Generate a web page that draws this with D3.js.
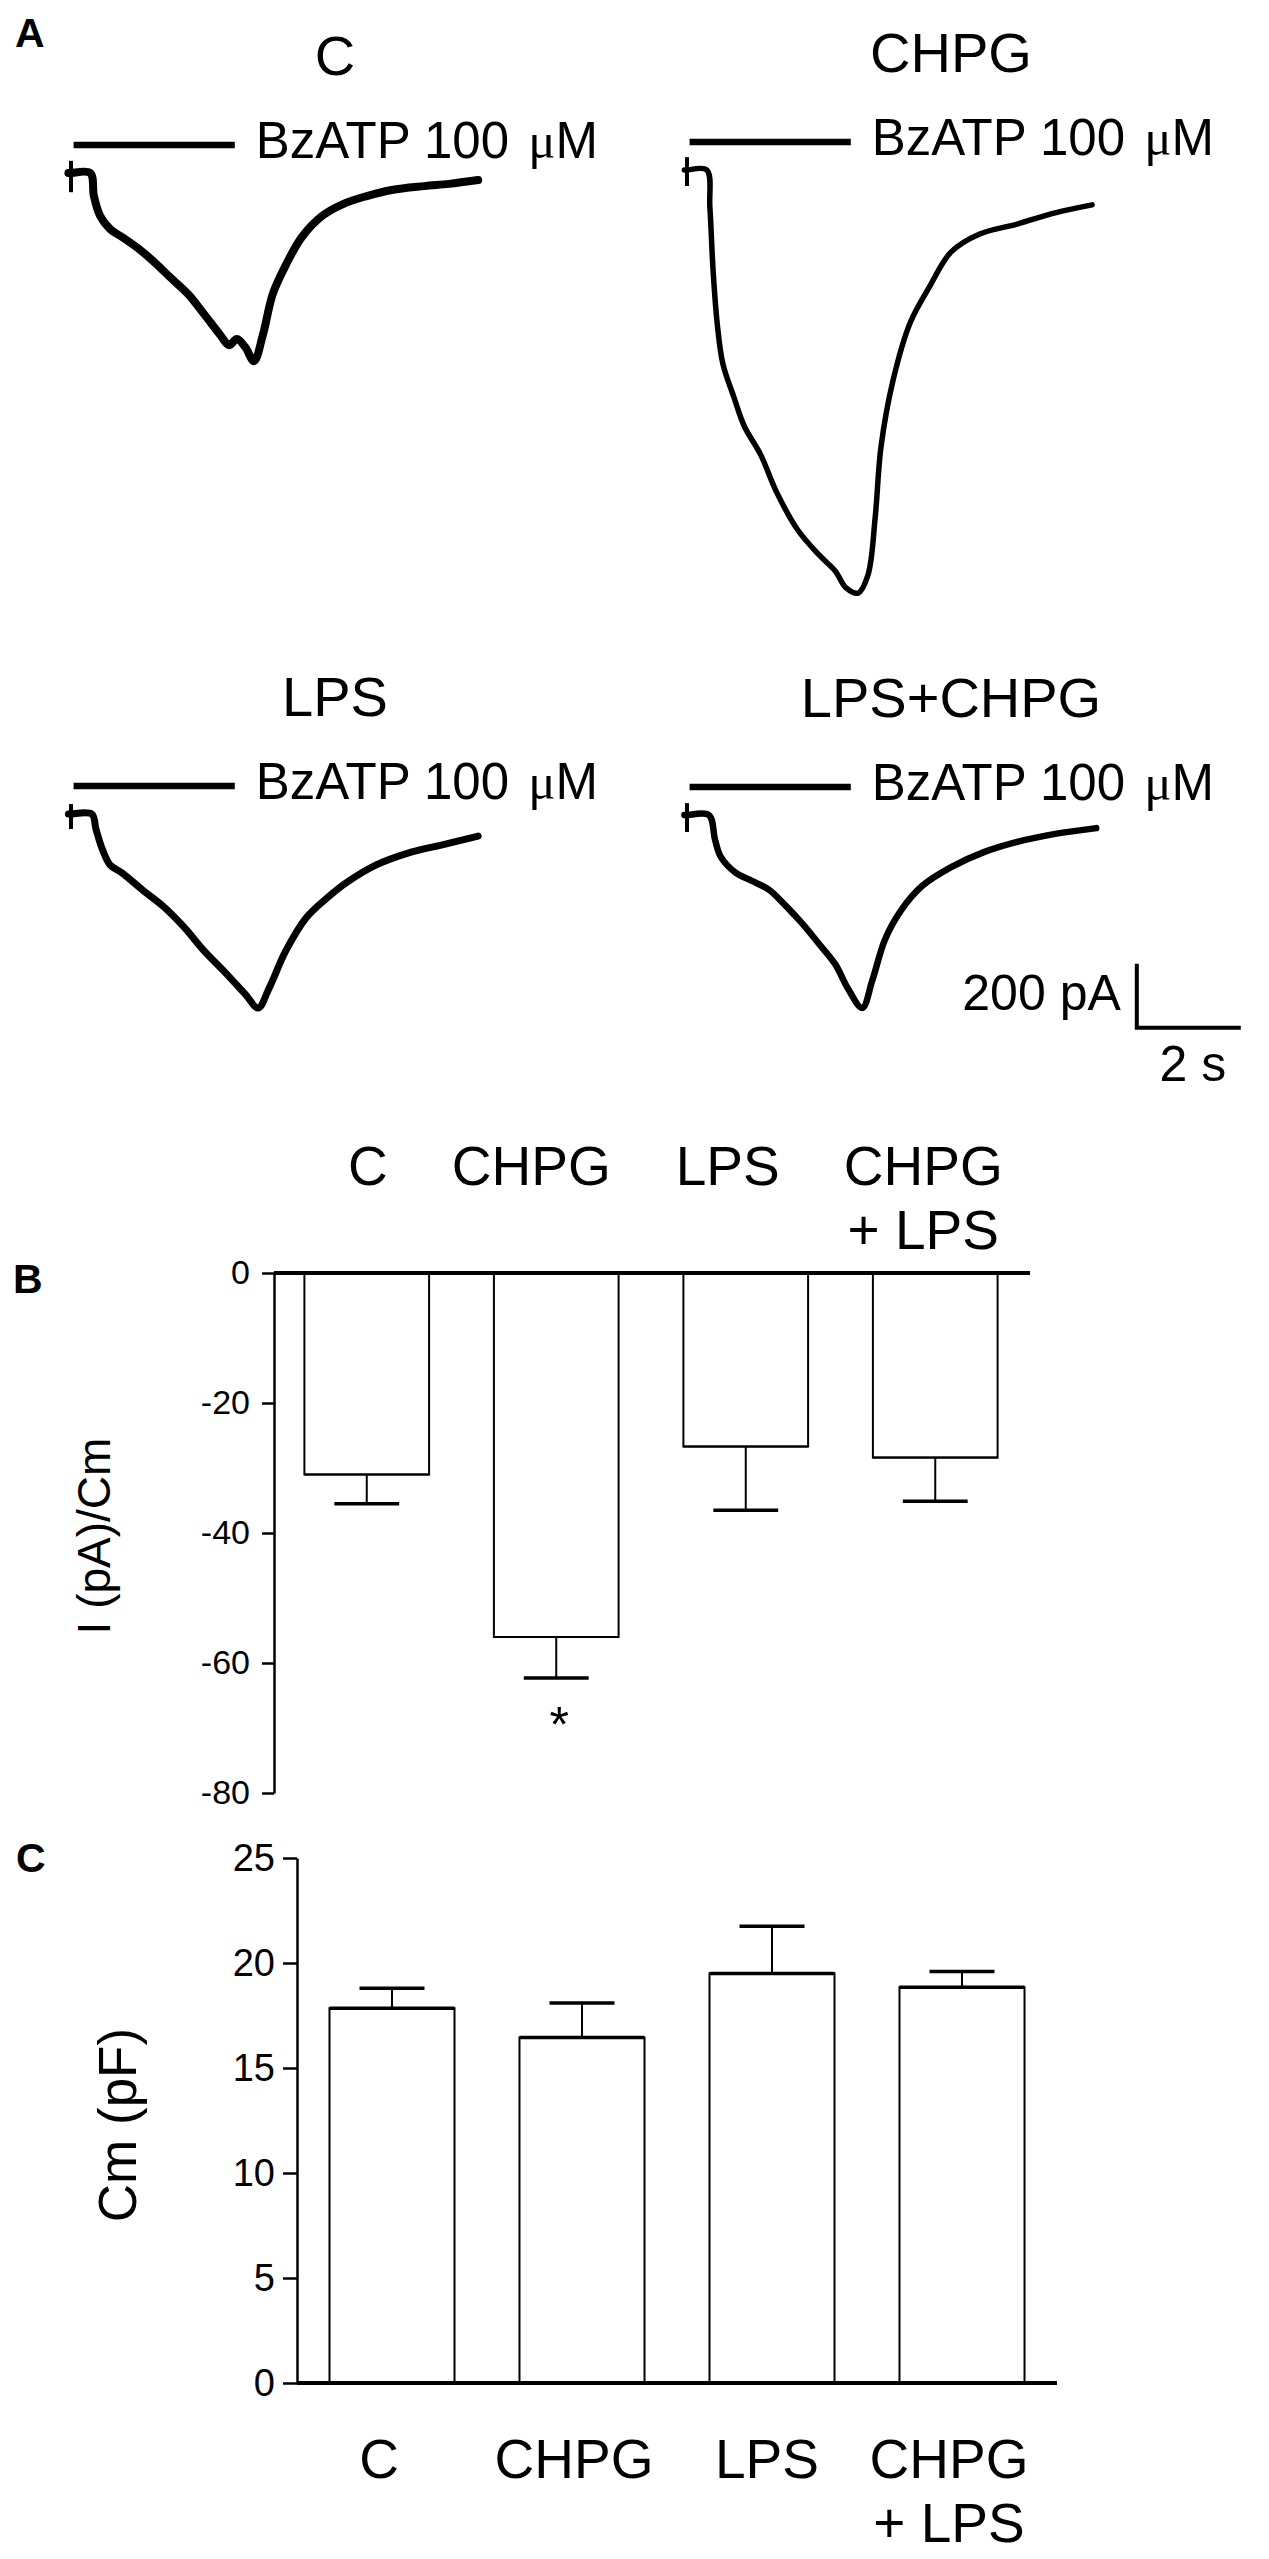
<!DOCTYPE html>
<html><head><meta charset="utf-8">
<script src="https://cdn.jsdelivr.net/npm/d3@7"></script>
<style>
body{margin:0;background:#fff}
svg{display:block}
text{font-family:"Liberation Sans",Arial,sans-serif;fill:#000}
</style>
</head><body>
<svg id="fig" width="1269" height="2559"></svg>
<script>
// ================= DATA =================
// Panel A: whole-cell current traces (time in s, current in pA relative to holding)
const traceTitles = ["C", "CHPG", "LPS", "LPS+CHPG"];
const stimText = "BzATP 100";
const stimUnit = "\u03bcM";
const stimWindow = [0.05, 3.15];           // s, BzATP application bar

const traceC_t = [-0.05, 0, 0.37, 0.44, 0.56, 0.75, 0.98, 1.31, 1.62, 1.92, 2.25, 2.56, 2.87, 3.04, 3.19, 3.35, 3.52, 3.69, 3.88, 4.13, 4.44, 4.83, 5.23, 5.69, 6.17, 6.79, 7.27, 7.83];
const traceC_I = [0, 0, 0, -72, -134, -175, -200, -238, -281, -328, -378, -441, -506, -538, -519, -544, -588, -506, -378, -288, -200, -134, -97, -72, -53, -41, -34, -22];

const traceCHPG_t = [-0.05, 0, 0.38, 0.44, 0.50, 0.58, 0.69, 0.90, 1.10, 1.42, 1.73, 2.13, 2.54, 2.85, 3.06, 3.29, 3.48, 3.62, 3.73, 3.96, 4.29, 4.67, 5.08, 5.63, 6.35, 7.08, 7.79];
const traceCHPG_I = [0, 0, 0, -116, -309, -478, -606, -709, -800, -891, -1009, -1125, -1203, -1253, -1306, -1322, -1266, -1084, -866, -659, -478, -363, -256, -200, -169, -134, -109];

const traceLPS_t = [-0.05, 0, 0.40, 0.48, 0.60, 0.75, 0.98, 1.38, 1.77, 2.17, 2.56, 2.94, 3.35, 3.60, 3.81, 4.13, 4.52, 4.92, 5.31, 5.87, 6.48, 7.12, 7.83];
const traceLPS_I = [0, 0, 0, -47, -109, -159, -184, -238, -288, -353, -428, -491, -563, -606, -544, -428, -325, -263, -213, -159, -122, -97, -69];

const traceLC_t = [-0.05, 0, 0.42, 0.54, 0.65, 0.94, 1.25, 1.58, 1.90, 2.21, 2.54, 2.85, 3.10, 3.37, 3.56, 3.81, 4.12, 4.52, 5.08, 5.71, 6.35, 7.08, 7.87];
const traceLC_I = [0, 0, 0, -78, -131, -181, -206, -234, -284, -338, -403, -466, -544, -603, -519, -388, -297, -222, -163, -116, -84, -59, -41];

// onset artifact (pA, up / down)
const artifactC = [38, -60];
const artifactCHPG = [40, -50];
const artifactLPS = [31, -47];
const artifactLC = [37, -53];

const scaleBarCurrent = 200; // pA
const scaleBarTime = 2;      // s

// Panels B and C: group means and SEM
const categories = ["C", "CHPG", "LPS", "CHPG + LPS"];
const categoryLines = [["C"], ["CHPG"], ["LPS"], ["CHPG", "+ LPS"]];
const currentDensity = [-31.0, -56.0, -26.7, -28.4];   // I (pA)/Cm
const currentDensitySem = [4.5, 6.3, 9.8, 6.7];
const significance = ["", "*", "", ""];
const capacitance = [17.85, 16.45, 19.5, 18.85];         // Cm (pF)
const capacitanceSem = [0.95, 1.65, 2.25, 0.75];
const ticksB = [0, -20, -40, -60, -80];
const ticksC = [0, 5, 10, 15, 20, 25];

// ================= DRAW =================
const svg = d3.select("#fig");
svg.append("rect").attr("width", 1269).attr("height", 2559).attr("fill", "#fff");

// panel letters
const letters = [
  {t: "A", x: 15, y: 47, s: 41},
  {t: "B", x: 13, y: 1293, s: 41},
  {t: "C", x: 16, y: 1872, s: 41}
];
svg.selectAll("text.letter").data(letters).join("text")
  .attr("class", "letter")
  .attr("x", d => d.x).attr("y", d => d.y)
  .attr("font-size", d => d.s).attr("font-weight", "bold")
  .text(d => d.t);

// ---- Panel A ----
const PX_PER_S = 52, PX_PER_200PA = 64;
const traces = [
  {title: traceTitles[0], t: traceC_t, I: traceC_I, art: artifactC, x0: 71, y0: 173, w: 8},
  {title: traceTitles[1], t: traceCHPG_t, I: traceCHPG_I, art: artifactCHPG, x0: 687, y0: 170, w: 5.5},
  {title: traceTitles[2], t: traceLPS_t, I: traceLPS_I, art: artifactLPS, x0: 71, y0: 814, w: 7},
  {title: traceTitles[3], t: traceLC_t, I: traceLC_I, art: artifactLC, x0: 687, y0: 815, w: 6.5}
];

traces.forEach((tr, k) => {
  const g = svg.append("g");
  const x = d3.scaleLinear().domain([0, 1]).range([tr.x0, tr.x0 + PX_PER_S]);
  const y = d3.scaleLinear().domain([0, -200]).range([tr.y0, tr.y0 + PX_PER_200PA]);
  tr.x = x; tr.y = y;
  const pts = tr.t.map((t, i) => [t, tr.I[i]]);
  const line = d3.line().x(d => x(d[0])).y(d => y(d[1])).curve(d3.curveCatmullRom.alpha(0.5));
  g.append("path").attr("d", line(pts))
    .attr("fill", "none").attr("stroke", "#000")
    .attr("stroke-width", tr.w).attr("stroke-linejoin", "round").attr("stroke-linecap", "round");
  // onset artifact
  g.append("line")
    .attr("x1", x(0)).attr("x2", x(0))
    .attr("y1", y(tr.art[0])).attr("y2", y(tr.art[1]))
    .attr("stroke", "#000").attr("stroke-width", 4);
  // stimulus bar
  const barY = tr.y0 - 28;
  g.append("line")
    .attr("x1", x(stimWindow[0])).attr("x2", x(stimWindow[1]))
    .attr("y1", barY).attr("y2", barY)
    .attr("stroke", "#000").attr("stroke-width", 6.5);
  const st = g.append("text")
    .attr("x", x(stimWindow[1]) + 21).attr("y", tr.y0 - 15)
    .attr("font-size", 51);
  st.append("tspan").text(stimText + " ");
  st.append("tspan").attr("dx", 5)
    .style("font-family", "'Liberation Serif','DejaVu Serif',serif").text(stimUnit[0]);
  st.append("tspan").text(stimUnit.slice(1));
  // title
  g.append("text")
    .attr("x", tr.x0 + 264).attr("y", tr.y0 - 98)
    .attr("text-anchor", "middle").attr("font-size", 56)
    .text(tr.title);
});

// scale bar (drawn in the LPS+CHPG panel's scales)
{
  const tr = traces[3];
  const t0 = 8.65, i0 = -665;
  const sb = svg.append("g");
  sb.append("path")
    .attr("d", `M${tr.x(t0)},${tr.y(i0 + scaleBarCurrent)}V${tr.y(i0)}H${tr.x(t0 + scaleBarTime)}`)
    .attr("fill", "none").attr("stroke", "#000").attr("stroke-width", 4);
  sb.append("text")
    .attr("x", tr.x(t0) - 16).attr("y", tr.y(i0) - 18)
    .attr("text-anchor", "end").attr("font-size", 50)
    .text(scaleBarCurrent + " pA");
  sb.append("text")
    .attr("x", tr.x(t0 + scaleBarTime / 2) + 4).attr("y", tr.y(i0) + 53)
    .attr("text-anchor", "middle").attr("font-size", 50)
    .text(scaleBarTime + " s");
}

// ---- Bar chart helper ----
function barChart(opts) {
  const g = svg.append("g");
  const x = d3.scaleBand().domain(categories).range(opts.xRange)
    .paddingInner(0.342).paddingOuter(0.171);
  const y = d3.scaleLinear().domain(opts.domain).range(opts.yRange);
  const bw = x.bandwidth();
  const data = categories.map((c, i) => ({c, v: opts.values[i], e: opts.sem[i], s: opts.sig ? opts.sig[i] : ""}));

  // bars
  g.selectAll("rect.bar").data(data).join("rect")
    .attr("class", "bar")
    .attr("x", d => x(d.c))
    .attr("y", d => Math.min(y(0), y(d.v)))
    .attr("width", bw)
    .attr("height", d => Math.abs(y(d.v) - y(0)))
    .attr("fill", "#fff").attr("stroke", "#000").attr("stroke-width", 2);
  // value edge (thicker)
  g.selectAll("line.edge").data(data).join("line")
    .attr("x1", d => x(d.c)).attr("x2", d => x(d.c) + bw)
    .attr("y1", d => y(d.v)).attr("y2", d => y(d.v))
    .attr("stroke", "#000").attr("stroke-width", opts.edgeW);
  // error bars
  const dir = opts.domain[1] < 0 ? -1 : 1;
  g.selectAll("line.err").data(data).join("line")
    .attr("x1", d => x(d.c) + bw / 2).attr("x2", d => x(d.c) + bw / 2)
    .attr("y1", d => y(d.v)).attr("y2", d => y(d.v + dir * d.e))
    .attr("stroke", "#000").attr("stroke-width", 2);
  g.selectAll("line.cap").data(data).join("line")
    .attr("x1", d => x(d.c) + bw / 2 - bw * 0.26).attr("x2", d => x(d.c) + bw / 2 + bw * 0.26)
    .attr("y1", d => y(d.v + dir * d.e)).attr("y2", d => y(d.v + dir * d.e))
    .attr("stroke", "#000").attr("stroke-width", 3.5);
  // significance
  g.selectAll("text.sig").data(data.filter(d => d.s)).join("text")
    .attr("x", d => x(d.c) + bw / 2 + 3)
    .attr("y", d => y(d.v + dir * d.e) + 64)
    .attr("text-anchor", "middle").attr("font-size", 50)
    .text(d => d.s);

  // baseline (zero) line
  g.append("line")
    .attr("x1", opts.xRange[0] + opts.axisDx).attr("x2", opts.xRange[1])
    .attr("y1", y(0)).attr("y2", y(0))
    .attr("stroke", "#000").attr("stroke-width", 4);

  // y axis
  const ax = g.append("g")
    .attr("transform", `translate(${opts.xRange[0] + opts.axisDx},0)`)
    .call(d3.axisLeft(y).tickValues(opts.ticks).tickSize(opts.tickSize)
      .tickSizeOuter(0).tickPadding(opts.tickPad).tickFormat(d => String(d)));
  ax.select(".domain").attr("stroke-width", 2.5);
  ax.selectAll(".tick line").attr("stroke-width", 2.5);
  ax.selectAll(".tick text")
    .attr("font-size", opts.tickFont)
    .style("font-family", "'Liberation Sans',Arial,sans-serif").attr("fill", "#000");

  // axis title
  g.append("text")
    .attr("transform", `translate(${opts.titleX},${opts.titleY}) rotate(-90)`)
    .attr("text-anchor", "middle").attr("font-size", opts.titleFont)
    .text(opts.title);

  // category labels
  categoryLines.forEach((lines, i) => {
    const cx = x(categories[i]) + bw / 2 + opts.labelDx[i];
    lines.forEach((ln, j) => {
      g.append("text")
        .attr("x", cx).attr("y", opts.labelY + j * 64)
        .attr("text-anchor", "middle").attr("font-size", 55)
        .text(ln);
    });
  });
}

// ---- Panel B ----
barChart({
  xRange: [272, 1030], axisDx: 2,
  domain: [0, -80], yRange: [1273, 1793],
  values: currentDensity, sem: currentDensitySem, sig: significance,
  ticks: ticksB, tickSize: 12, tickPad: 12, tickFont: 34,
  edgeW: 2,
  title: "I (pA)/Cm", titleX: 110, titleY: 1536, titleFont: 46,
  labelY: 1185, labelDx: [1, -25, -18, -12]
});

// ---- Panel C ----
barChart({
  xRange: [297, 1057], axisDx: 0,
  domain: [0, 25], yRange: [2383, 1858],
  values: capacitance, sem: capacitanceSem, sig: null,
  ticks: ticksC, tickSize: 14, tickPad: 8, tickFont: 38,
  edgeW: 3.5,
  title: "Cm (pF)", titleX: 136, titleY: 2125, titleFont: 53,
  labelY: 2478, labelDx: [-13, -8, -5, -13]
});
</script>
</body></html>
